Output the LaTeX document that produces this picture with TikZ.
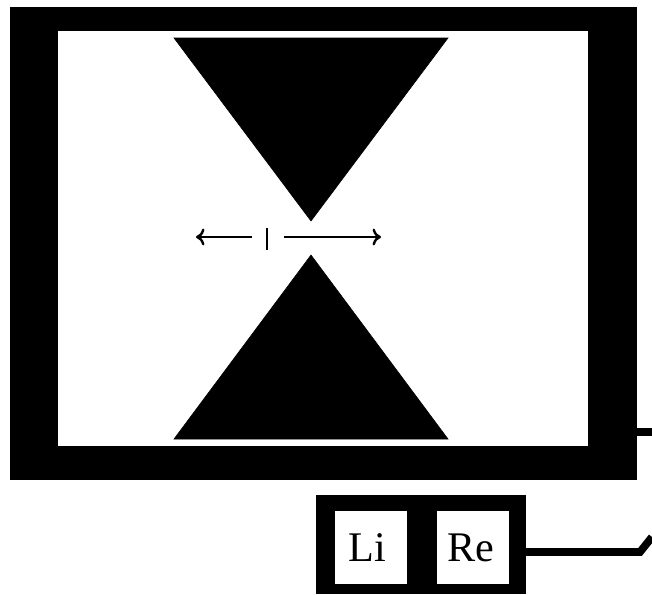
\documentclass[tikz,border=0pt]{standalone}
\usepackage{fontspec}
\setmainfont{Liberation Serif}
\usetikzlibrary{positioning, arrows.meta}
\tikzset{
    blackbox/.style={draw=none, fill=black, inner sep=0pt, outer sep=0pt},
    whitebox/.style={draw=none, fill=white, inner sep=0pt, outer sep=0pt},
    keybox/.style={whitebox, minimum width=1.8cm, minimum height=1.825cm, font=\fontsize{30}{30}\selectfont},
    gaparrow/.style={black, -{To[length=6pt, width=12pt]}, line width=1.7pt},
    wire/.style={black, line width=5.5pt}
}
\begin{document}
\begin{tikzpicture}[x=0.025cm, y=-0.025cm]
        \useasboundingbox (0,0) rectangle (652,594);
        \node[blackbox, minimum width=15.675cm, minimum height=11.825cm] (frame) at (323.5,243.5) {};
        \node[whitebox, minimum width=13.25cm, minimum height=10.375cm] (screen) at (323,238.5) {};
        \filldraw[black] (174,38) -- (448,38) -- (311,221) -- cycle;
        \filldraw[black] (311,255) -- (448,439) -- (174,439) -- cycle;
        % gap marker
        \coordinate (gapleft) at (252,237);
        \coordinate (gapright) at (284,237);
        \coordinate (tipleft) at (196,237);
        \coordinate (tipright) at (381,237);
        \draw[gaparrow] (gapleft) -- (tipleft);
        \draw[gaparrow] (gapright) -- (tipright);
        \coordinate (ticktop) at (267,228);
        \coordinate (tickbot) at (267,250);
        \draw[black, line width=1.5pt] (ticktop) -- (tickbot);
        % switch box
        \node[blackbox, minimum width=5.25cm, minimum height=2.475cm, anchor=north west] (switch) at (316,495) {};
        \node[keybox] (li) at (371,547.5) {Li\kern5.5pt};
        \node[keybox, right=0.75cm of li] (re) {Re\kern3.5pt};
        % wires
        \coordinate (wiretop) at (652,432);
        \coordinate (wirebend) at (640,552);
        \coordinate (wireend) at (652,537);
        \draw[wire] (frame.east |- wiretop) -- (wiretop);
        \draw[wire] (switch.east |- wirebend) -- (wirebend) -- (wireend);
    \end{tikzpicture}
\end{document}
